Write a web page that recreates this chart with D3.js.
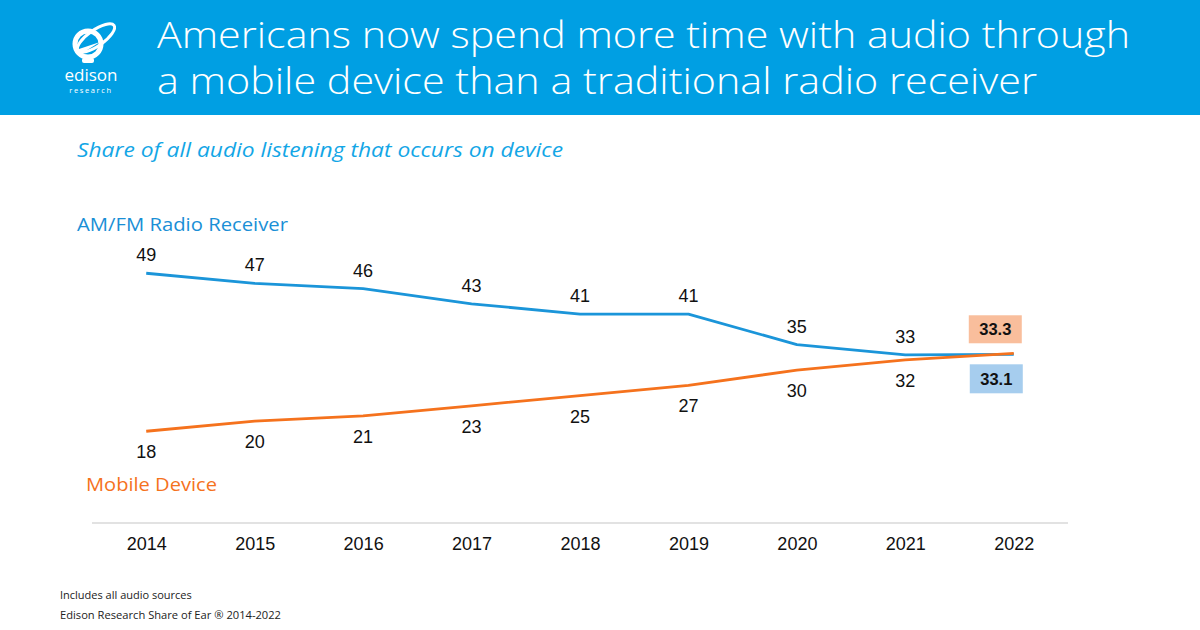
<!DOCTYPE html>
<html><head><meta charset="utf-8">
<script src="https://cdn.jsdelivr.net/npm/d3@7"></script>
<style>html,body{margin:0;padding:0;background:#fff;}svg{display:block;}</style>
</head><body>
<svg id="c" width="1200" height="630"></svg>
<script>
const years = ["2014","2015","2016","2017","2018","2019","2020","2021","2022"];
const radioValues = [49,47,46,43,41,41,35,33,33.1];
const mobileValues = [18,20,21,23,25,27,30,32,33.3];
const radioLabels = ["49","47","46","43","41","41","35","33","33.1"];
const mobileLabels = ["18","20","21","23","25","27","30","32","33.3"];
const titleLines = ["Americans now spend more time with audio through","a mobile device than a traditional radio receiver"];
const subtitle = "Share of all audio listening that occurs on device";
const seriesNames = ["AM/FM Radio Receiver","Mobile Device"];
const footnotes = ["Includes all audio sources","Edison Research Share of Ear \u00AE 2014-2022"];

const svg = d3.select("#c");
const BLUE = "#1b95d9", ORANGE = "#f5721d";
const font = "'Open Sans', 'Noto Sans', sans-serif";

// header
svg.append("rect").attr("x",0).attr("y",0).attr("width",1200).attr("height",115).attr("fill","#009fe3");
const tl = [{y:48,len:973},{y:94,len:880}];
titleLines.forEach((t,i)=>{
  svg.append("text").attr("x",157).attr("y",tl[i].y).attr("fill","#fff")
    .attr("font-family",font).attr("font-weight",300).attr("font-size",37)
    .attr("textLength",tl[i].len).attr("lengthAdjust","spacingAndGlyphs").text(t);
});
// logo
const lg = svg.append("g");
lg.append("circle").attr("cx",88).attr("cy",44).attr("r",13).attr("fill","none").attr("stroke","#fff").attr("stroke-width",5);
lg.append("ellipse").attr("cx",96).attr("cy",38).attr("rx",22).attr("ry",8).attr("transform","rotate(-35,96,38)")
  .attr("fill","none").attr("stroke","#fff").attr("stroke-width",3);
lg.append("rect").attr("x",82).attr("y",58).attr("width",12).attr("height",5).attr("rx",2).attr("fill","#fff");
lg.append("path").attr("d","M76,50 L100,42 L84,52 Z").attr("fill","#fff");
lg.append("text").attr("x",91).attr("y",81).attr("text-anchor","middle").attr("fill","#fff")
  .attr("font-family",font).attr("font-size",17).text("edison");
lg.append("text").attr("x",91).attr("y",93).attr("text-anchor","middle").attr("fill","#fff")
  .attr("font-family",font).attr("font-size",7.5).attr("letter-spacing",1.6).text("research");

// subtitle
svg.append("text").attr("x",77).attr("y",157).attr("fill","#13a6e6").attr("font-family",font)
  .attr("font-style","italic").attr("font-size",20.5).attr("textLength",486).attr("lengthAdjust","spacingAndGlyphs").text(subtitle);

// scales
const x = d3.scalePoint().domain(years).range([92,1068]).padding(0.5);
const y = d3.scaleLinear().domain([0,60]).range([523,217.2]);

// axis
const lf = "Arial, 'Liberation Sans', sans-serif";
const ax = svg.append("g").attr("transform","translate(0,523)")
  .call(d3.axisBottom(x).tickSize(0).tickPadding(14));
ax.select(".domain").attr("stroke","#d9d9d9").attr("stroke-width",1.5).attr("d","M92,0H1068");
ax.selectAll("text").attr("font-family",lf).attr("font-size",18).attr("fill","#111");

// lines
const line = d3.line().x((d,i)=>x(years[i])).y(d=>y(d)).curve(d3.curveLinear);
svg.append("path").datum(radioValues).attr("d",line).attr("fill","none").attr("stroke",BLUE).attr("stroke-width",2.8).attr("stroke-linejoin","round");
svg.append("path").datum(mobileValues).attr("d",line).attr("fill","none").attr("stroke",ORANGE).attr("stroke-width",2.8).attr("stroke-linejoin","round");

// data labels
years.slice(0,8).forEach((yr,i)=>{
  svg.append("text").attr("x",x(yr)).attr("y",y(radioValues[i])-12).attr("text-anchor","middle")
    .attr("font-family",lf).attr("font-size",18).attr("fill","#111").text(radioLabels[i]);
  svg.append("text").attr("x",x(yr)).attr("y",y(mobileValues[i])+27).attr("text-anchor","middle")
    .attr("font-family",lf).attr("font-size",18).attr("fill","#111").text(mobileLabels[i]);
});
// end boxes
const last = years.length-1;
const bx = x(years[last]) - 45;
svg.append("rect").attr("x",bx).attr("y",y(mobileValues[last])-38).attr("width",53).attr("height",28).attr("fill","#f9be9c");
svg.append("text").attr("x",bx+26.5).attr("y",y(mobileValues[last])-18).attr("text-anchor","middle")
  .attr("font-family",lf).attr("font-weight","bold").attr("font-size",16.5).attr("fill","#111").text(mobileLabels[last]);
svg.append("rect").attr("x",bx+1).attr("y",y(radioValues[last])+10).attr("width",53).attr("height",29).attr("fill","#a6cdee");
svg.append("text").attr("x",bx+27.5).attr("y",y(radioValues[last])+31).attr("text-anchor","middle")
  .attr("font-family",lf).attr("font-weight","bold").attr("font-size",16.5).attr("fill","#111").text(radioLabels[last]);

// series names
svg.append("text").attr("x",77).attr("y",231).attr("fill","#1a8fd6").attr("font-family",font)
  .attr("font-size",19).attr("textLength",211).attr("lengthAdjust","spacingAndGlyphs").text(seriesNames[0]);
svg.append("text").attr("x",86).attr("y",491).attr("fill",ORANGE).attr("font-family",font)
  .attr("font-size",19).attr("textLength",131).attr("lengthAdjust","spacingAndGlyphs").text(seriesNames[1]);

// footnotes
svg.append("text").attr("x",60).attr("y",599).attr("fill","#222").attr("font-family",font).attr("font-size",11).text(footnotes[0]);
svg.append("text").attr("x",60).attr("y",619).attr("fill","#222").attr("font-family",font).attr("font-size",11)
  .attr("textLength",221).attr("lengthAdjust","spacingAndGlyphs").text(footnotes[1]);
</script>
</body></html>
